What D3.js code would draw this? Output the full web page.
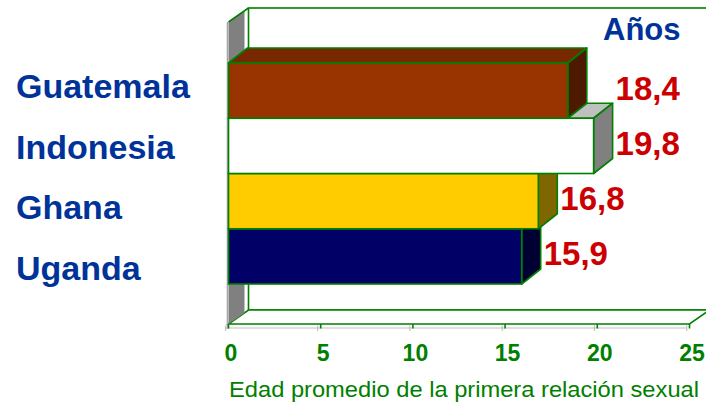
<!DOCTYPE html>
<html>
<head>
<meta charset="utf-8">
<script src="https://cdn.jsdelivr.net/npm/d3@7"></script>
<style>
  body { margin: 0; background: #fff; }
  svg text { font-family: "Liberation Sans", Arial, sans-serif; }
</style>
</head>
<body>
<script>
// Data
var countries = ["Guatemala", "Indonesia", "Ghana", "Uganda"];
var ages = [18.4, 19.8, 16.8, 15.9];
var valueLabels = ["18,4", "19,8", "16,8", "15,9"];
var ticks = [0, 5, 10, 15, 20, 25];
var axisTitle = "Edad promedio de la primera relación sexual";
var unitLabel = "Años";

// colours: front, top, side
var fronts = ["#993300", "#ffffff", "#ffcc00", "#000066"];
var tops   = ["#772800", "#c0c0c0", "#b39000", "#00004d"];
var sides  = ["#4d1a00", "#808080", "#806600", "#000033"];

var width = 706, height = 404;
var green = "#008000";
var wall = {dx: 20, dy: 14, top: 22, bottom: 324};
var bar = {dx: 19, dy: 15};

var svg = d3.select("body").append("svg")
  .attr("width", width).attr("height", height);

// Scales
var xScale = d3.scaleLinear().domain([0, 25]).range([228.5, 689.5]);
var xFlat = d3.scaleLinear().domain([0, 25]).range([225.5, 686.7]);
var yScale = d3.scaleBand().domain(countries).range([63, 284]);
var labelY = d3.scalePoint().domain(countries).range([98, 280]);

var x0 = xScale(0), x25 = xScale(25);

// Back wall
svg.append("rect")
  .attr("x", x0 + wall.dx).attr("y", wall.top - wall.dy)
  .attr("width", x25 - x0).attr("height", wall.bottom - wall.top)
  .attr("fill", "#fff").attr("stroke", green).attr("stroke-width", 1.6);

// Floor
svg.append("polygon")
  .attr("points", [[x0, wall.bottom], [x0 + wall.dx, wall.bottom - wall.dy],
                   [x25 + wall.dx, wall.bottom - wall.dy], [x25, wall.bottom]].join(" "))
  .attr("fill", "#fff").attr("stroke", green).attr("stroke-width", 1.6);

// Left side wall
svg.append("polygon")
  .attr("points", [[x0, wall.top], [x0 + wall.dx - 4, wall.top - wall.dy + 3],
                   [x0 + wall.dx - 4, wall.bottom - wall.dy + 3], [x0, wall.bottom]].join(" "))
  .attr("fill", "#808080");
svg.append("line")
  .attr("x1", x0).attr("y1", wall.top).attr("x2", x0 + wall.dx).attr("y2", wall.top - wall.dy)
  .attr("stroke", green).attr("stroke-width", 1.6);
svg.append("line")
  .attr("x1", x0 - 1).attr("y1", wall.top).attr("x2", x0 - 1).attr("y2", 329)
  .attr("stroke", "#a8a8a8").attr("stroke-width", 1.6);

// Bars, drawn bottom to top so upper bars cover the lower tops
var rows = countries.map(function(c, i) {
  return {name: c, value: ages[i], label: valueLabels[i], front: fronts[i], top: tops[i], side: sides[i], i: i};
}).reverse();

var g = svg.selectAll("g.bar").data(rows).enter().append("g").attr("class", "bar");

g.append("polygon") // top face
  .attr("points", function(d) {
    var y = yScale(d.name), x1 = xScale(d.value);
    return [[x0, y], [x0 + bar.dx, y - bar.dy], [x1 + bar.dx, y - bar.dy], [x1, y]].join(" ");
  })
  .attr("fill", function(d) { return d.top; })
  .attr("stroke", green).attr("stroke-width", 1.6).attr("stroke-linejoin", "round");

g.append("polygon") // side face
  .attr("points", function(d) {
    var y = yScale(d.name), h = yScale.bandwidth(), x1 = xScale(d.value);
    return [[x1, y], [x1 + bar.dx, y - bar.dy], [x1 + bar.dx, y + h - bar.dy], [x1, y + h]].join(" ");
  })
  .attr("fill", function(d) { return d.side; })
  .attr("stroke", green).attr("stroke-width", 1.6).attr("stroke-linejoin", "round");

g.append("rect") // front face
  .attr("x", x0)
  .attr("y", function(d) { return yScale(d.name); })
  .attr("width", function(d) { return xScale(d.value) - x0; })
  .attr("height", yScale.bandwidth())
  .attr("fill", function(d) { return d.front; })
  .attr("stroke", green).attr("stroke-width", 1.6);

// Axis: flat grey line + ticks, green floor ticks
svg.append("line")
  .attr("x1", xFlat(0)).attr("y1", 328).attr("x2", xFlat(25)).attr("y2", 328)
  .attr("stroke", "#c0c0c0").attr("stroke-width", 1.2);
svg.selectAll("line.gtick").data(ticks).enter().append("line")
  .attr("class", "gtick")
  .attr("x1", d => xFlat(d)).attr("x2", d => xFlat(d))
  .attr("y1", 325.5).attr("y2", 331)
  .attr("stroke", "#c0c0c0").attr("stroke-width", 1.2);
svg.selectAll("line.ftick").data(ticks).enter().append("line")
  .attr("class", "ftick")
  .attr("x1", d => xScale(d)).attr("x2", d => xScale(d))
  .attr("y1", wall.bottom).attr("y2", 328.5)
  .attr("stroke", green).attr("stroke-width", 1.6);

svg.selectAll("text.tick").data(ticks).enter().append("text")
  .attr("class", "tick")
  .attr("x", d => xScale(d) + 2.5).attr("y", 361)
  .attr("text-anchor", "middle")
  .attr("font-size", "23px").attr("font-weight", "bold")
  .attr("fill", green)
  .text(d => d);

svg.append("text")
  .attr("x", 229).attr("y", 397)
  .attr("font-size", "21.5px").attr("fill", green)
  .attr("textLength", 470).attr("lengthAdjust", "spacingAndGlyphs")
  .text(axisTitle);

// Category labels
svg.selectAll("text.cat").data(countries).enter().append("text")
  .attr("class", "cat")
  .attr("x", 16).attr("y", d => labelY(d))
  .attr("font-size", "34px").attr("font-weight", "bold")
  .attr("fill", "#003399")
  .text(d => d);

// Value labels: placed clear of this bar and the bar below it
var order = countries.map(function(c, i) { return xScale(ages[i]) + bar.dx; });
svg.selectAll("text.val").data(countries).enter().append("text")
  .attr("class", "val")
  .attr("x", function(d, i) {
    var below = i + 1 < order.length ? order[i + 1] : 0;
    return Math.max(order[i], below) + 3;
  })
  .attr("y", d => yScale(d) + yScale.bandwidth() / 2 + 9)
  .attr("font-size", "33px").attr("font-weight", "bold")
  .attr("fill", "#cc0000")
  .text((d, i) => valueLabels[i]);

svg.append("text")
  .attr("x", 603).attr("y", 40)
  .attr("font-size", "31px").attr("font-weight", "bold")
  .attr("fill", "#003399")
  .text(unitLabel);
</script>
</body>
</html>
